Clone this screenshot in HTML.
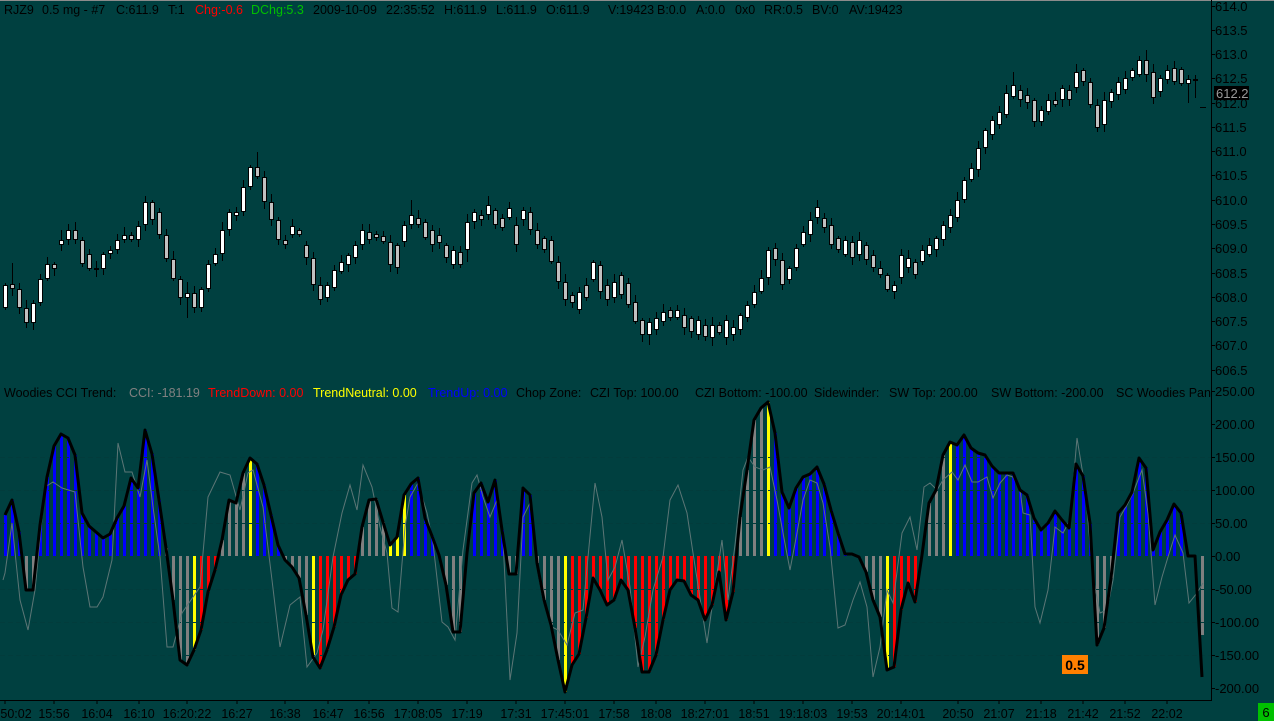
<!DOCTYPE html>
<html><head><meta charset="utf-8">
<style>
html,body{margin:0;padding:0;background:#004040;overflow:hidden;}
svg{display:block;}
text{font-family:"Liberation Sans",Arial,sans-serif;}
</style></head>
<body>
<svg id="s" width="1274" height="721" viewBox="0 0 1274 721" xmlns="http://www.w3.org/2000/svg">
<defs><clipPath id="cp"><rect x="0" y="0" width="1211" height="721"/></clipPath></defs>
<rect width="1274" height="721" fill="#004040"/>
<rect x="0" y="0" width="1274" height="1" fill="#8c8c8c"/>
<g id="candles" shape-rendering="crispEdges"></g>
<g id="bars" shape-rendering="crispEdges"></g>
<g id="levels" shape-rendering="crispEdges"></g>
<polyline id="thin" fill="none" stroke="#5c7676" stroke-width="1"/>
<polyline id="cci" fill="none" stroke="#000" stroke-width="3" stroke-linejoin="round"/>

<!-- header -->
<g font-size="12.5" fill="#000">
<text x="4" y="14">RJZ9</text>
<text x="42" y="14">0.5 mg - #7</text>
<text x="116" y="14">C:611.9</text>
<text x="168" y="14">T:1</text>
<text x="195" y="14" fill="#ff0000">Chg:-0.6</text>
<text x="251" y="14" fill="#00c000">DChg:5.3</text>
<text x="313" y="14">2009-10-09</text>
<text x="386" y="14">22:35:52</text>
<text x="444" y="14">H:611.9</text>
<text x="496" y="14">L:611.9</text>
<text x="546" y="14">O:611.9</text>
<text x="608" y="14">V:19423</text>
<text x="657" y="14">B:0.0</text>
<text x="696" y="14">A:0.0</text>
<text x="735" y="14">0x0</text>
<text x="764" y="14">RR:0.5</text>
<text x="812" y="14">BV:0</text>
<text x="849" y="14">AV:19423</text>
</g>

<!-- indicator header -->
<g font-size="12.5" fill="#000" clip-path="url(#cp)">
<text x="4" y="397">Woodies CCI Trend:</text>
<text x="129" y="397" fill="#808080">CCI: -181.19</text>
<text x="208" y="397" fill="#ff0000">TrendDown: 0.00</text>
<text x="313" y="397" fill="#ffff00">TrendNeutral: 0.00</text>
<text x="428" y="397" fill="#0000ff">TrendUp: 0.00</text>
<text x="516" y="397">Chop Zone:</text>
<text x="590" y="397">CZI Top: 100.00</text>
<text x="695" y="397">CZI Bottom: -100.00</text>
<text x="814" y="397">Sidewinder:</text>
<text x="889" y="397">SW Top: 200.00</text>
<text x="991" y="397">SW Bottom: -200.00</text>
<text x="1116" y="397">SC Woodies Panel</text>
</g>

<!-- axes -->
<line x1="1211.5" y1="0" x2="1211.5" y2="700" stroke="#000" stroke-width="1"/>
<line x1="0" y1="700.5" x2="1212" y2="700.5" stroke="#000" stroke-width="1"/>

<g stroke="#000" stroke-width="1" shape-rendering="crispEdges">
<line x1="1211" y1="6.5" x2="1215" y2="6.5"/>
<line x1="1211" y1="30.5" x2="1215" y2="30.5"/>
<line x1="1211" y1="54.5" x2="1215" y2="54.5"/>
<line x1="1211" y1="78.5" x2="1215" y2="78.5"/>
<line x1="1211" y1="103.5" x2="1215" y2="103.5"/>
<line x1="1211" y1="127.5" x2="1215" y2="127.5"/>
<line x1="1211" y1="151.5" x2="1215" y2="151.5"/>
<line x1="1211" y1="175.5" x2="1215" y2="175.5"/>
<line x1="1211" y1="200.5" x2="1215" y2="200.5"/>
<line x1="1211" y1="224.5" x2="1215" y2="224.5"/>
<line x1="1211" y1="248.5" x2="1215" y2="248.5"/>
<line x1="1211" y1="273.5" x2="1215" y2="273.5"/>
<line x1="1211" y1="297.5" x2="1215" y2="297.5"/>
<line x1="1211" y1="321.5" x2="1215" y2="321.5"/>
<line x1="1211" y1="345.5" x2="1215" y2="345.5"/>
<line x1="1211" y1="370.5" x2="1215" y2="370.5"/>
<line x1="1211" y1="391.5" x2="1215" y2="391.5"/>
<line x1="1211" y1="424.5" x2="1215" y2="424.5"/>
<line x1="1211" y1="457.5" x2="1215" y2="457.5"/>
<line x1="1211" y1="490.5" x2="1215" y2="490.5"/>
<line x1="1211" y1="523.5" x2="1215" y2="523.5"/>
<line x1="1211" y1="556.5" x2="1215" y2="556.5"/>
<line x1="1211" y1="589.5" x2="1215" y2="589.5"/>
<line x1="1211" y1="622.5" x2="1215" y2="622.5"/>
<line x1="1211" y1="655.5" x2="1215" y2="655.5"/>
<line x1="1211" y1="688.5" x2="1215" y2="688.5"/>
</g>

<g font-size="13" fill="#000">
<text x="1215" y="11">614.0</text>
<text x="1215" y="35">613.5</text>
<text x="1215" y="59">613.0</text>
<text x="1215" y="83">612.5</text>
<text x="1215" y="108">612.0</text>
<text x="1215" y="132">611.5</text>
<text x="1215" y="156">611.0</text>
<text x="1215" y="180">610.5</text>
<text x="1215" y="205">610.0</text>
<text x="1215" y="229">609.5</text>
<text x="1215" y="253">609.0</text>
<text x="1215" y="278">608.5</text>
<text x="1215" y="302">608.0</text>
<text x="1215" y="326">607.5</text>
<text x="1215" y="350">607.0</text>
<text x="1215" y="375">606.5</text>
<text x="1215" y="396">250.00</text>
<text x="1215" y="429">200.00</text>
<text x="1215" y="462">150.00</text>
<text x="1215" y="495">100.00</text>
<text x="1215" y="528">50.00</text>
<text x="1215" y="561">0.00</text>
<text x="1215" y="594">-50.00</text>
<text x="1215" y="627">-100.00</text>
<text x="1215" y="660">-150.00</text>
<text x="1215" y="693">-200.00</text>
</g>

<rect x="1214" y="86" width="35" height="14" fill="#000"/>
<text x="1216" y="98" font-size="13" fill="#9a9a9a">612.2</text>

<!-- bottom axis ticks -->
<g stroke="#000" stroke-width="1" shape-rendering="crispEdges">
<line x1="5" y1="700" x2="5" y2="704"/><line x1="54" y1="700" x2="54" y2="704"/>
<line x1="97" y1="700" x2="97" y2="704"/><line x1="139" y1="700" x2="139" y2="704"/>
<line x1="187" y1="700" x2="187" y2="704"/><line x1="237" y1="700" x2="237" y2="704"/>
<line x1="285" y1="700" x2="285" y2="704"/><line x1="328" y1="700" x2="328" y2="704"/>
<line x1="369" y1="700" x2="369" y2="704"/><line x1="418" y1="700" x2="418" y2="704"/>
<line x1="467" y1="700" x2="467" y2="704"/><line x1="516" y1="700" x2="516" y2="704"/>
<line x1="565" y1="700" x2="565" y2="704"/><line x1="614" y1="700" x2="614" y2="704"/>
<line x1="656" y1="700" x2="656" y2="704"/><line x1="705" y1="700" x2="705" y2="704"/>
<line x1="754" y1="700" x2="754" y2="704"/><line x1="803" y1="700" x2="803" y2="704"/>
<line x1="852" y1="700" x2="852" y2="704"/><line x1="901" y1="700" x2="901" y2="704"/>
<line x1="958" y1="700" x2="958" y2="704"/><line x1="999" y1="700" x2="999" y2="704"/>
<line x1="1041" y1="700" x2="1041" y2="704"/><line x1="1083" y1="700" x2="1083" y2="704"/>
<line x1="1125" y1="700" x2="1125" y2="704"/><line x1="1167" y1="700" x2="1167" y2="704"/>
</g>
<g font-size="12.5" fill="#000" text-anchor="middle">
<text x="-17" y="718" text-anchor="start">15:50:02</text>
<text x="54" y="718">15:56</text>
<text x="97" y="718">16:04</text>
<text x="139" y="718">16:10</text>
<text x="187" y="718">16:20:22</text>
<text x="237" y="718">16:27</text>
<text x="285" y="718">16:38</text>
<text x="328" y="718">16:47</text>
<text x="369" y="718">16:56</text>
<text x="418" y="718">17:08:05</text>
<text x="467" y="718">17:19</text>
<text x="516" y="718">17:31</text>
<text x="565" y="718">17:45:01</text>
<text x="614" y="718">17:58</text>
<text x="656" y="718">18:08</text>
<text x="705" y="718">18:27:01</text>
<text x="754" y="718">18:51</text>
<text x="803" y="718">19:18:03</text>
<text x="852" y="718">19:53</text>
<text x="901" y="718">20:14:01</text>
<text x="958" y="718">20:50</text>
<text x="999" y="718">21:07</text>
<text x="1041" y="718">21:18</text>
<text x="1083" y="718">21:42</text>
<text x="1125" y="718">21:52</text>
<text x="1167" y="718">22:02</text>
</g>

<rect x="1062" y="655" width="26" height="19" fill="#ff8000"/>
<text x="1075" y="670" font-size="14" font-weight="bold" fill="#000" text-anchor="middle">0.5</text>

<rect x="1258" y="703" width="16" height="18" fill="#00c000"/>
<text x="1266" y="717" font-size="13" fill="#000" text-anchor="middle">6</text>
</svg>
<script>
(function(){
var NS="http://www.w3.org/2000/svg";
function el(tag,a,p){var e=document.createElementNS(NS,tag);for(var k in a)e.setAttribute(k,a[k]);p.appendChild(e);return e;}
var C=[
[285,308,1],[284,289,0],[289,308,0],[308,323,0],[303,323,1],[279,303,1],[264,279,1],[264,269,0],[240,245,1],[230,240,1],
[230,240,0],[240,264,0],[254,269,0],[268,270,0],[254,269,1],[250,254,1],[240,250,1],[235,240,1],[235,240,0],[226,240,1],
[202,225,1],[202,220,0],[212,235,0],[235,259,0],[259,279,0],[279,298,0],[293,298,1],[293,308,0],[289,308,1],[264,289,1],
[254,264,1],[230,254,1],[212,230,1],[212,216,1],[187,212,1],[167,187,1],[167,177,0],[177,202,0],[202,220,0],[220,240,0],
[240,245,0],[226,235,1],[230,235,0],[245,258,0],[258,285,0],[285,300,0],[285,298,1],[270,288,1],[262,272,1],[255,265,1],
[245,258,1],[230,245,1],[232,240,0],[234,238,0],[236,242,0],[242,265,0],[245,268,0],[225,242,1],[215,225,1],[218,225,0],
[222,238,0],[230,245,0],[235,243,0],[245,258,0],[250,265,1],[252,265,0],[222,250,1],[212,222,1],[215,220,0],[205,215,1],
[210,225,0],[218,228,0],[208,218,1],[225,245,0],[210,220,1],[212,230,0],[230,245,0],[238,250,0],[240,262,0],[262,282,0],
[282,300,0],[295,303,0],[292,310,1],[285,298,0],[262,280,1],[265,292,0],[285,300,0],[282,298,1],[275,295,0],[283,305,0],
[302,322,0],[320,335,0],[322,335,1],[318,330,1],[312,322,1],[310,318,0],[310,318,1],[315,328,0],[318,332,0],[320,335,1],
[325,337,0],[325,338,1],[325,333,0],[320,338,1],[327,335,1],[315,330,1],[305,318,1],[292,305,1],[278,292,1],[250,278,1],
[248,260,0],[260,285,0],[268,280,1],[248,268,1],[232,245,1],[220,235,1],[207,218,1],[218,228,0],[225,245,0],[238,250,0],
[240,255,1],[242,258,0],[240,255,1],[245,260,0],[255,268,0],[268,275,0],[275,290,0],[285,292,1],[255,278,1],[258,268,1],
[262,275,0],[250,262,1],[245,255,1],[238,250,1],[225,240,1],[215,228,1],[200,218,1],[180,200,1],[168,180,1],[148,170,1],
[130,148,1],[120,135,1],[112,125,1],[93,115,1],[85,97,1],[90,100,0],[95,103,0],[100,122,0],[110,122,1],[100,112,1],
[100,105,0],[88,100,1],[90,100,0],[72,88,1],[70,82,0],[82,105,0],[105,128,0],[100,125,1],[92,102,1],[82,95,1],
[78,90,1],[70,78,1],[60,75,1],[60,75,0],[72,98,0],[78,92,1],[70,80,1],[68,82,0],[69,84,0],[79,84,1],
[79,80,0]];
var hiO={1:263,8:230,20:196,26:282,36:152,58:200,69:196,107:285,116:200,144:72,153:64,163:50,169:75,170:75};
var loO={26:318,4:330,66:262,92:345,101:346,156:132,169:103,170:98};
var gC=document.getElementById('candles');
for(var i=0;i<C.length;i++){
 var x=5+7*i,t=C[i][0],b=C[i][1],u=C[i][2];
 var hi=(hiO[i]!==undefined)?hiO[i]:t-(2+(i*37)%7);
 var lo=(loO[i]!==undefined)?loO[i]:b+(2+(i*53)%6);
 el('line',{x1:x+0.5,y1:hi,x2:x+0.5,y2:lo,stroke:'#000','stroke-width':1},gC);
 el('rect',{x:x-1.5,y:t+0.5,width:4,height:Math.max(b-t-1,1),fill:u?'#ffffff':'#c0c0c0',stroke:'#000','stroke-width':1},gC);
}
el('line',{x1:1200,y1:107.5,x2:1206,y2:107.5,stroke:'#000','stroke-width':1},gC);

var Y=[515,500,532,590,590,525,477,446,434,438,
455,513,526,532,538,534,518,506,478,488,
430,454,500,548,600,660,665,650,630,592,
570,540,500,503,473,458,464,485,515,545,
560,567,578,615,657,668,650,627,595,580,
574,527,500,499,522,545,537,495,484,478,
518,536,555,585,632,632,553,493,483,502,
480,530,574,574,488,495,563,600,625,660,
692,665,654,618,578,590,605,600,580,590,
628,672,672,655,620,590,580,581,595,600,
620,605,572,620,592,517,470,420,408,402,
433,492,508,488,477,474,467,484,510,533,
554,554,557,572,600,617,670,667,610,583,
602,555,503,490,455,442,445,435,448,453,
455,466,473,473,473,490,495,518,530,523,
511,520,528,464,476,523,645,628,578,513,
505,492,458,468,550,532,520,504,513,556,
556,677];
var runs=[['B',3],['G',2],['B',18],['G',4],['Y',1],['R',3],['G',4],['Y',1],['B',4],['G',4],['Y',1],['R',6],['G',4],['Y',3],['B',4],['N',1],['G',3],['N',1],['B',5],['G',2],['B',2],['G',4],['Y',1],['R',24],['G',4],['Y',1],['B',11],['N',2],['G',3],['Y',1],['R',4],['N',1],['G',3],['Y',1],['B',20],['G',3],['B',10],['N',2],['G',1]];
var cols=[];runs.forEach(function(r){for(var k=0;k<r[1];k++)cols.push(r[0]);});
var col={B:'#0000ff',R:'#ff0000',Y:'#ffff00',G:'#808080'};
var gB=document.getElementById('bars');
for(var i=0;i<Y.length;i++){
 var c=cols[i]; if(!c||c==='N')continue;
 var v=Y[i]; if(i===171)v=635;
 var x=5+7*i, top=Math.min(556,v), h=Math.abs(v-556); if(h<1)continue;
 el('rect',{x:x-1,y:top,width:3,height:h,fill:col[c]},gB);
}
var gL=document.getElementById('levels');
[457,490,523,589,622,655].forEach(function(y){
 el('line',{x1:0,y1:y+0.5,x2:1211,y2:y+0.5,stroke:'#023c3c','stroke-width':1,'stroke-dasharray':'5,3'},gL);
});
var pts=[];for(var i=0;i<Y.length;i++)pts.push((5+7*i)+','+Y[i]);
document.getElementById('cci').setAttribute('points',pts.join(' '));
var T=[3,580,5,573,12,523,20,600,28,630,35,590,45,487,53,482,62,488,75,492,83,567,90,607,97,607,103,597,112,560,118,443,125,472,132,472,140,497,147,460,153,507,160,557,167,647,173,647,182,613,200,587,208,497,220,472,230,475,240,510,248,473,253,470,263,507,272,580,280,647,290,605,
300,597,307,667,317,653,323,630,333,557,342,513,350,485,357,510,363,465,372,487,380,527,387,553,392,608,398,612,405,527,410,497,418,483,427,513,433,543,442,622,448,627,455,640,463,550,472,483,477,475,483,497,490,517,497,500,503,540,510,680,517,633,523,517,530,503,537,567,543,600,552,627,558,630,567,645,575,613,583,610,595,483,602,517,608,580,615,567,622,540,630,587,638,667,645,637,653,590,663,557,670,500,678,485,687,513,693,553,707,643,713,600,722,540,728,600,
735,545,743,470,748,457,755,467,763,470,770,467,777,500,783,533,790,570,797,533,803,500,810,480,817,483,823,503,830,547,838,628,845,625,853,600,860,582,867,607,873,677,880,647,887,590,893,603,902,533,910,517,917,550,924,487,930,483,937,490,943,480,952,472,958,480,965,465,972,482,978,482,987,477,993,498,1000,483,1007,475,1013,477,1020,490,1023,513,1030,515,1035,607,1040,623,
1048,590,1055,527,1063,533,1070,520,1077,438,1085,487,1093,577,1100,613,1107,610,1113,580,1120,517,1127,505,1133,493,1142,470,1148,513,1155,605,1162,577,1168,557,1175,535,1183,553,1189,603,1197,593,1203,583];
var tp=[];for(var i=0;i<T.length;i+=2)tp.push(T[i]+','+T[i+1]);
document.getElementById('thin').setAttribute('points',tp.join(' '));
})();
</script>
</body></html>
